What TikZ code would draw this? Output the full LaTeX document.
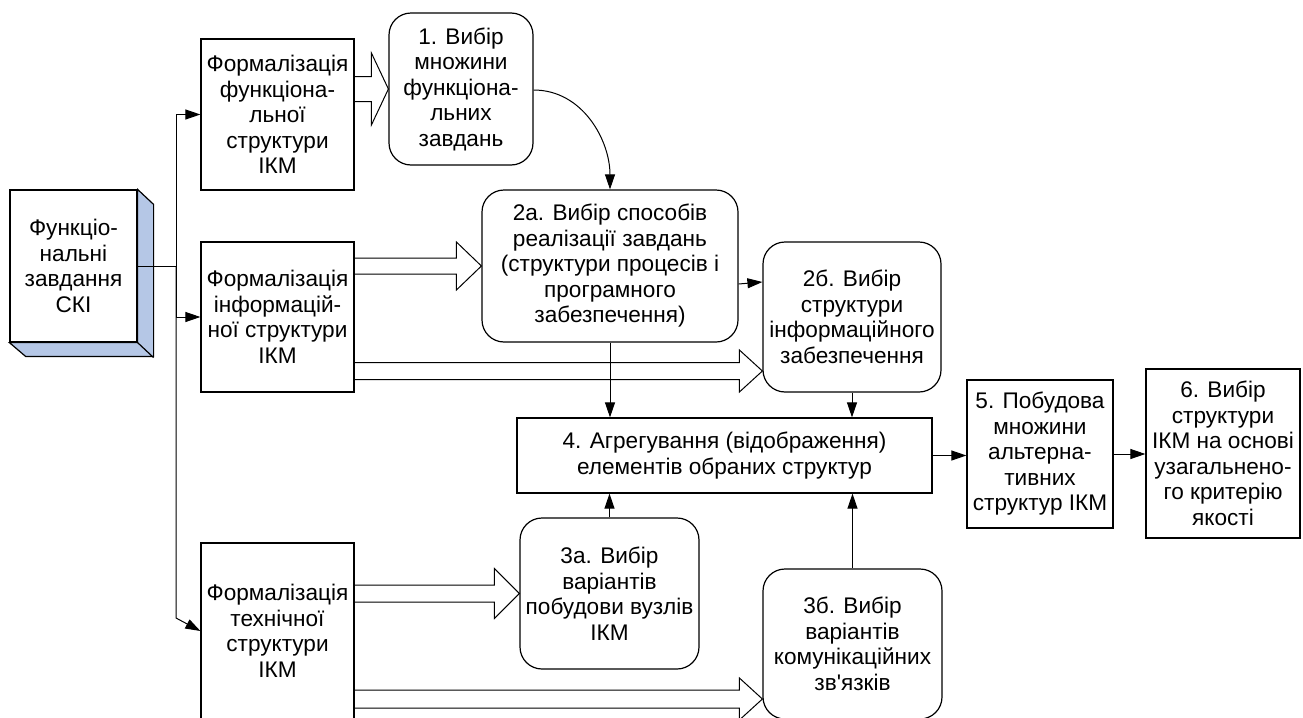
\documentclass[tikz,border=0pt]{standalone}
\usepackage{fontspec}
\setmainfont{Liberation Sans}[Ligatures=TeXOff]
\usetikzlibrary{calc,arrows.meta}
\definecolor{sidefill}{RGB}{181,199,230}

\newcommand\fatarrow[6]{%
  \draw[fat] ($(#1.east|-0,#3)+(0,-#4)$) -- ($(#2.west|-0,#3)+(-#6,-#4)$)
    -- ($(#2.west|-0,#3)+(-#6,-#5)$) -- (#2.west|-0,#3)
    -- ($(#2.west|-0,#3)+(-#6,#5)$) -- ($(#2.west|-0,#3)+(-#6,#4)$)
    -- ($(#1.east|-0,#3)+(0,#4)$);}

\begin{document}
\begin{tikzpicture}
      [x=.5pt,y=-.5pt
      ,box/.style={draw,line width=.6pt,fill=white,align=center,inner sep=0pt
                  ,font=\fontsize{11.3}{12.75}\selectfont}
      ,rbox/.style={box,rounded corners=11pt}
      ,sz/.style 2 args={minimum width=#1*.5pt,minimum height=#2*.5pt}
      ,arr/.style={line width=.5pt,-{Triangle[length=7.5pt,width=5pt]}}
      ,fat/.style={line width=.5pt}
      ,side/.style={draw,line width=.6pt,fill=sidefill}
      ]
  \useasboundingbox (0,0) rectangle (1303,718);

  \node[box,sz={127}{152}] (ski) at (73.5,266) {Функціо-\\нальні\\завдання\\СКІ};
  \draw[side] (ski.north east) -- ++(16,15) -- ++(0,152) -- ++(-128,0)
    -- (ski.south west) -- (ski.south east) -- cycle;
  \draw[line width=.6pt] (ski.south east) -- ++(16,15);

  \node[box,sz={153}{151}] (f1) at (277.5,114.5) {Формалізація\\функціона-\\льної\\структури\\ІКМ};
  \node[box,sz={153}{150}] (f2) at (277.5,317) {Формалізація\\інформацій-\\ної структури\\ІКМ};
  \node[box,sz={153}{176}] (f3) at (277.5,631) {Формалізація\\технічної\\структури\\ІКМ};

  \node[rbox,sz={144}{152}] (b1) at (461,89) {1. Вибір\\множини\\функціона-\\льних\\завдань};
  \node[rbox,sz={256}{152}] (b2a) at (610,266) {2а. Вибір способів\\реалізації завдань\\(структури процесів і\\програмного\\забезпечення)};
  \node[rbox,sz={178}{150}] (b2b) at (852,317) {2б. Вибір\\структури\\інформаційного\\забезпечення};
  \node[box,sz={415}{75}] (b4) at (724.5,455.5) {4. Агрегування (відображення)\\елементів обраних структур};
  \node[rbox,sz={179}{151}] (b3a) at (609.5,593.5) {3а. Вибір\\варіантів\\побудови вузлів\\ІКМ};
  \node[rbox,sz={179}{150}] (b3b) at (852.5,644) {3б. Вибір\\варіантів\\комунікаційних\\зв'язків};
  \node[box,sz={146}{148}] (b5) at (1040,454) {5. Побудова\\множини\\альтерна-\\тивних\\структур ІКМ};
  \node[box,sz={154}{169}] (b6) at (1223,453.5) {6. Вибір\\структури\\ІКМ на основі\\узагальнено-\\го критерію\\якості};

  \coordinate (bus) at (176,266);
  \draw[line width=.5pt] (ski.east) -- (bus);
  \draw[arr] (bus) |- (f1.west);
  \draw[arr] (bus) |- (f2.west);
  \draw[arr] (bus) -- (bus|-0,618) -- (f3.west);

  \foreach \a/\b/\y/\s/\h/\l in {f1/b1/89/12.5/36/17,f2/b2a/266/8/24/25,f2/b2b/371/8.5/21/23
                                ,f3/b3a/593.5/8.5/25/25,f3/b3b/699/9/21/23}{
    \fatarrow{\a}{\b}{\y}{\s}{\h}{\l}
  }

  \draw[arr] (b1.east|-0,90) to[out=0,in=90] (b2a.north);
  \draw[arr] (b2a.east|-0,284) -- (b2b.west|-0,282);
  \foreach \n in {b2a,b2b}{
    \draw[arr] (\n.south) -- (\n.south|-b4.north);
  }
  \foreach \n in {b3a,b3b}{
    \draw[arr] (\n.north) -- (\n.north|-b4.south);
  }
  \draw[arr] (b4.east) -- (b4.east-|b5.west);
  \draw[arr] (b5.east) -- (b5.east-|b6.west);
\end{tikzpicture}
\end{document}
